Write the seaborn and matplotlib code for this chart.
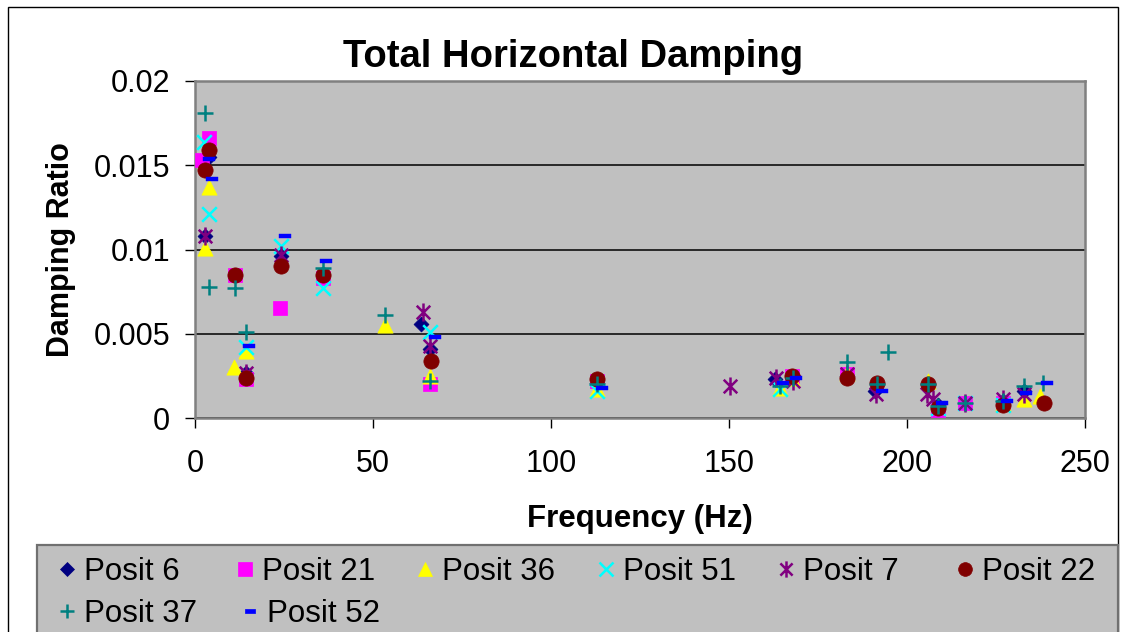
import numpy as np
import pandas as pd
import matplotlib
matplotlib.use("Agg")
import matplotlib.pyplot as plt
from matplotlib.path import Path
from matplotlib.lines import Line2D
from matplotlib.patches import Rectangle
import seaborn as sns

plt.rcParams["font.family"] = ["Liberation Sans", "DejaVu Sans"]

# ---- measured modal damping per sensor position ----
series_names = ["Posit 6", "Posit 21", "Posit 36", "Posit 51",
                "Posit 7", "Posit 22", "Posit 37", "Posit 52"]

posit6_hz = [3.8, 2.7, 14.4, 24.2, 63.6, 66.1, 112.8, 162.9, 183.2, 191.0, 206.0, 208.6, 216.3, 227.0, 232.9]
posit6_zeta = [0.0155, 0.0108, 0.0027, 0.0096, 0.0056, 0.0041, 0.0021, 0.0023, 0.0025, 0.0016, 0.0020, 0.0008, 0.0009, 0.0010, 0.0016]

posit21_hz = [3.8, 2.0, 11.1, 14.4, 24.0, 35.9, 66.1, 112.8, 167.6, 183.2, 208.6, 216.3, 227.0]
posit21_zeta = [0.0166, 0.0153, 0.0085, 0.0023, 0.0065, 0.0083, 0.0020, 0.0022, 0.0025, 0.0026, 0.0005, 0.0009, 0.0009]

posit36_hz = [3.8, 2.7, 10.9, 14.4, 53.5, 66.1, 112.8, 164.2, 167.6, 183.2, 206.0, 227.0, 232.9, 237.4]
posit36_zeta = [0.0137, 0.0101, 0.0030, 0.0040, 0.0055, 0.0025, 0.0017, 0.0018, 0.0024, 0.0027, 0.0022, 0.0009, 0.0011, 0.0013]

posit51_hz = [2.5, 3.8, 14.4, 24.2, 35.9, 65.9, 112.8, 164.2, 208.6, 216.3, 227.0]
posit51_zeta = [0.0164, 0.0121, 0.0042, 0.0102, 0.0077, 0.0051, 0.0016, 0.0017, 0.0006, 0.0009, 0.0008]

posit7_hz = [2.7, 14.4, 24.2, 64.0, 66.1, 150.2, 163.3, 168.0, 183.2, 191.3, 205.5, 207.4, 216.3, 227.0, 232.9]
posit7_zeta = [0.0108, 0.0027, 0.0097, 0.0063, 0.0043, 0.0019, 0.0024, 0.0022, 0.0026, 0.0014, 0.0014, 0.0011, 0.0009, 0.0011, 0.0014]

posit22_hz = [3.8, 2.7, 11.1, 14.4, 24.2, 35.9, 66.4, 112.8, 167.6, 183.2, 191.5, 206.0, 208.6, 227.0, 238.5]
posit22_zeta = [0.0159, 0.0147, 0.0085, 0.0024, 0.0090, 0.0085, 0.0034, 0.0023, 0.0025, 0.0024, 0.0021, 0.0020, 0.0006, 0.0008, 0.0009]

posit37_hz = [2.7, 3.8, 11.1, 14.4, 35.9, 53.5, 66.1, 112.8, 164.2, 168.0, 183.2, 194.7, 191.5, 206.0, 208.6, 216.3, 227.0, 232.9, 238.3]
posit37_zeta = [0.0181, 0.0078, 0.0077, 0.0051, 0.0089, 0.0061, 0.0022, 0.0020, 0.0019, 0.0024, 0.0033, 0.0039, 0.0020, 0.0020, 0.0007, 0.0009, 0.0010, 0.0019, 0.0021]

posit52_hz = [3.8, 4.7, 15.3, 25.4, 36.9, 67.3, 114.2, 165.2, 168.8, 192.9, 209.7, 228.0, 233.5, 239.3]
posit52_zeta = [0.0154, 0.0142, 0.0043, 0.0108, 0.0093, 0.0048, 0.0018, 0.0021, 0.0024, 0.0016, 0.0009, 0.0010, 0.0015, 0.0021]

x_ticks = [0, 50, 100, 150, 200, 250]
y_ticks = [0, 0.005, 0.01, 0.015, 0.02]
y_tick_labels = ["0", "0.005", "0.01", "0.015", "0.02"]

freqs = [posit6_hz, posit21_hz, posit36_hz, posit51_hz,
         posit7_hz, posit22_hz, posit37_hz, posit52_hz]
zetas = [posit6_zeta, posit21_zeta, posit36_zeta, posit51_zeta,
         posit7_zeta, posit22_zeta, posit37_zeta, posit52_zeta]

df = pd.concat(
    [pd.DataFrame({"series": n, "freq": f, "zeta": z})
     for n, f, z in zip(series_names, freqs, zetas)],
    ignore_index=True,
)

# ---- marker styles (Excel-like) ----
M, L = Path.MOVETO, Path.LINETO
star_path = Path([(0, -1), (0, 1), (-0.75, -0.75), (0.75, 0.75), (-0.75, 0.75), (0.75, -0.75)],
                 [M, L, M, L, M, L])
dash_path = Path([(-0.5, -0.19), (0.5, -0.19), (0.5, 0.19), (-0.5, 0.19), (-0.5, -0.19)],
                 [M, L, L, L, Path.CLOSEPOLY])

styles = {
    # name: (marker, colour, size in pt, filled, line width)
    "Posit 6": ("D", "#000080", 7.6, True, 0.5),
    "Posit 21": ("s", "#FF00FF", 10.5, True, 0.5),
    "Posit 36": ("^", "#FFFF00", 11.0, True, 0.5),
    "Posit 51": ("x", "#00FFFF", 10.5, False, 1.8),
    "Posit 7": (star_path, "#800080", 13.0, False, 1.8),
    "Posit 22": ("o", "#800000", 11.0, True, 0.5),
    "Posit 37": ("+", "#008080", 11.5, False, 1.8),
    "Posit 52": (dash_path, "#0000FF", 9.0, True, 0.3),
}

W, H = 1127, 632
fig = plt.figure(figsize=(W / 100, H / 100), dpi=100)
fig.patch.set_facecolor("white")

# outer chart border
fig.add_artist(Rectangle((8 / W, -0.05), (1118 - 8) / W, 1.05 - 7 / H,
                         transform=fig.transFigure, fill=False,
                         edgecolor="black", linewidth=1.0))

ax = fig.add_axes([195 / W, 1 - 418 / H, (1085 - 195) / W, (418 - 81) / H])
ax.set_facecolor("#C0C0C0")

for name in series_names:
    marker, color, ms, filled, lw = styles[name]
    sub = df[df["series"] == name]
    kws = dict(marker=marker, color=color, s=ms ** 2, linewidth=lw,
               ax=ax, legend=False, zorder=3, clip_on=False)
    if filled or isinstance(marker, Path):
        kws["edgecolor"] = color
    sns.scatterplot(data=sub, x="freq", y="zeta", **kws)

ax.set_xlim(0, 250)
ax.set_ylim(0, 0.02)
ax.set_xticks(x_ticks)
ax.set_xticklabels([str(t) for t in x_ticks])
ax.set_yticks(y_ticks)
ax.set_yticklabels(y_tick_labels)
ax.yaxis.grid(True, color="black", linewidth=1.1)
ax.xaxis.grid(False)
ax.set_axisbelow(True)
for sp in ax.spines.values():
    sp.set_color("#808080")
    sp.set_linewidth(1.8)
ax.tick_params(axis="both", direction="out", length=7, width=1.0,
               color="black", labelsize=22, labelcolor="black")
ax.tick_params(axis="y", pad=11)
ax.tick_params(axis="x", pad=15)
ax.set_xlabel("")
ax.set_ylabel("")

fig.text(573 / W, 1 - 67 / H, "Total Horizontal Damping", ha="center",
         va="baseline", fontsize=27.5, fontweight="bold")
fig.text(640 / W, 1 - 527 / H, "Frequency (Hz)", ha="center",
         va="baseline", fontsize=22.5, fontweight="bold")
fig.text(61 / W, 1 - 249.5 / H, "Damping Ratio", ha="center",
         va="center", rotation=90, fontsize=22, fontweight="bold")

# ---- legend box ----
fig.add_artist(Rectangle((37 / W, -0.05), (1118 - 37) / W, 0.05 + 1 - 545 / H,
                         transform=fig.transFigure, facecolor="#C0C0C0",
                         edgecolor="#707070", linewidth=1.6))

legend_pos = {
    "Posit 6": (67, 569), "Posit 21": (245, 569), "Posit 36": (425, 569),
    "Posit 51": (606, 569), "Posit 7": (786, 569), "Posit 22": (965, 569),
    "Posit 37": (67, 611), "Posit 52": (250, 611),
}
for name in series_names:
    marker, color, ms, filled, lw = styles[name]
    px, py = legend_pos[name]
    fx, fy = px / W, 1 - py / H
    handle = Line2D([fx], [fy], transform=fig.transFigure, linestyle="none",
                    marker=marker, markersize=ms * (0.8 if name == "Posit 52" else 0.9),
                    color=color, markeredgecolor=color,
                    markeredgewidth=lw if not filled else 0.5)
    fig.add_artist(handle)
    fig.text((px + 17) / W, fy, name, ha="left", va="center_baseline",
             fontsize=22.5)

fig.savefig("out.png", dpi=100)
